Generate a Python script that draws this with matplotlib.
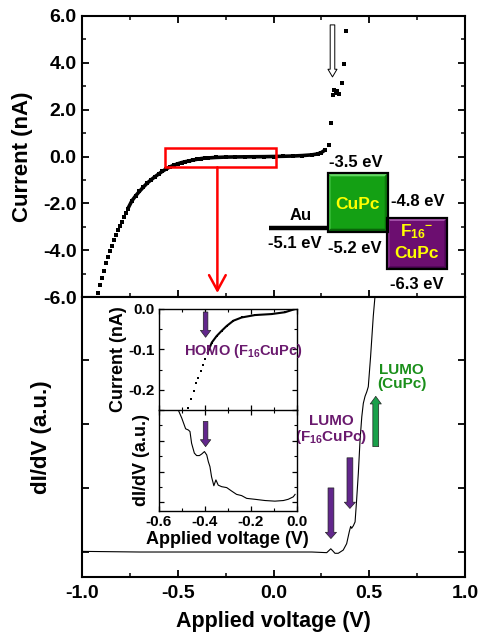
import matplotlib
matplotlib.use('Agg')
import matplotlib.pyplot as plt
import numpy as np
from matplotlib.patches import Rectangle, Polygon
from matplotlib.ticker import MultipleLocator, FormatStrFormatter, NullFormatter

plt.rcParams.update({
    'font.family': ['Liberation Sans', 'DejaVu Sans'],
    'font.weight': 'bold',
    'axes.labelweight': 'bold',
    'mathtext.fontset': 'custom',
    'mathtext.rm': 'Liberation Sans:bold',
    'mathtext.it': 'Liberation Sans:bold',
    'mathtext.bf': 'Liberation Sans:bold',
    'mathtext.default': 'rm',
})

# ---------------- data ----------------
# main I-V curve (nA vs V)
iv_v = [-0.918, -0.908, -0.896, -0.883, -0.873, -0.864, -0.854, -0.843, -0.833, -0.822,
        -0.812, -0.802, -0.791, -0.781, -0.772, -0.762,
        -0.74, -0.72, -0.70, -0.68, -0.66, -0.64, -0.62, -0.60, -0.58, -0.56, -0.54,
        -0.52, -0.50, -0.48, -0.46, -0.44, -0.42, -0.40, -0.38, -0.36, -0.34, -0.30,
        -0.25, -0.20, -0.15, -0.10, -0.05, 0.00, 0.05, 0.10, 0.15, 0.20, 0.23, 0.25, 0.27,
        0.291, 0.300, 0.312, 0.318, 0.325, 0.333, 0.340, 0.359, 0.370, 0.379]
iv_i = [-5.81, -5.49, -5.20, -4.89, -4.56, -4.30, -4.03, -3.81, -3.56, -3.35,
        -3.15, -2.97, -2.78, -2.60, -2.43, -2.25,
        -1.90, -1.68, -1.49, -1.31, -1.14, -1.00, -0.87, -0.75, -0.63, -0.53, -0.44,
        -0.37, -0.31, -0.26, -0.22, -0.19, -0.15, -0.12, -0.09, -0.07, -0.06, -0.04,
        -0.025, -0.018, -0.014, -0.010, -0.007, 0.0, 0.01, 0.02, 0.04, 0.07, 0.11, 0.17, 0.28,
        0.49, 1.44, 2.62, 2.85, 2.70, 2.78, 2.68, 3.15, 3.94, 5.36]

# main dI/dV curve (a.u.)
didv_v = [-1.0, -0.7, -0.4, 0.0, 0.2, 0.278, 0.299, 0.309, 0.321, 0.338, 0.364, 0.382,
          0.396, 0.403, 0.408, 0.417, 0.426, 0.434, 0.443, 0.452, 0.461, 0.469, 0.478,
          0.487, 0.495, 0.507, 0.521, 0.530, 0.536]
didv_y = [0.01, 0.0, 0.0, 0.0, 0.0, -0.01, 0.05, 0.02, -0.02, -0.02, 0.03, 0.13,
          0.32, 0.40, 0.37, 0.41, 0.47, 0.81, 1.23, 1.75, 2.11, 2.32, 2.43,
          2.50, 2.58, 3.05, 3.68, 3.99, 4.3]

# inset I-V
in_v = [-0.472, -0.461, -0.448, -0.437, -0.429, -0.418, -0.410, -0.400, -0.388, -0.370,
        -0.349, -0.327, -0.305, -0.276, -0.240, -0.182, -0.109, -0.051, -0.007]
in_i = [-0.246, -0.223, -0.202, -0.183, -0.171, -0.154, -0.1375, -0.123, -0.108, -0.083,
        -0.067, -0.054, -0.042, -0.029, -0.021, -0.015, -0.0125, -0.008, 0.0]

# inset dI/dV
ind_v = [-0.516, -0.501, -0.484, -0.472, -0.465, -0.458, -0.446, -0.436, -0.424, -0.414,
         -0.402, -0.392, -0.385, -0.378, -0.371, -0.361, -0.352, -0.342, -0.327, -0.305,
         -0.284, -0.262, -0.240, -0.218, -0.182, -0.138, -0.095, -0.058, -0.037, -0.015,
         -0.007]
ind_y = [3.0, 2.74, 2.39, 2.35, 2.30, 1.92, 1.60, 1.52, 1.52, 1.57,
         1.65, 1.54, 1.32, 1.16, 0.83, 0.54, 0.73, 0.56, 0.51, 0.48,
         0.37, 0.26, 0.22, 0.13, 0.10, 0.06, 0.04, 0.06, 0.10, 0.18,
         0.26]

# energy levels (eV)
au_level = -5.1
cupc_levels = (-3.5, -5.2)      # LUMO, HOMO
f16_levels = (-4.8, -6.3)       # LUMO, HOMO

# ---------------- figure ----------------
W, H = 480, 634
fig = plt.figure(figsize=(W / 100, H / 100), dpi=100)

def fr(x0, y0, x1, y1):
    return [x0 / W, 1 - y1 / H, (x1 - x0) / W, (y1 - y0) / H]

ax_iv = fig.add_axes(fr(82, 16, 465, 297))
ax_d = fig.add_axes(fr(82, 297, 465, 577))

for ax in (ax_iv, ax_d):
    for s in ax.spines.values():
        s.set_linewidth(1.5)
    ax.set_xlim(-1.0, 1.0)

# top panel
dense = [(v >= -0.77) and (v <= 0.28) for v in iv_v]
dv = [v for v, m in zip(iv_v, dense) if m]
di = [i for i, m in zip(iv_i, dense) if m]
ax_iv.plot(dv, di, '-', color='black', lw=2.6, solid_capstyle='butt')
ax_iv.plot(iv_v, iv_i, 's', color='black', ms=2.4, mew=0)
ax_iv.set_ylim(-6, 6)
ax_iv.yaxis.set_major_locator(MultipleLocator(2.0))
ax_iv.yaxis.set_minor_locator(MultipleLocator(1.0))
ax_iv.yaxis.set_major_formatter(FormatStrFormatter('%.1f'))
ax_iv.xaxis.set_major_locator(MultipleLocator(0.5))
ax_iv.xaxis.set_minor_locator(MultipleLocator(0.25))
ax_iv.tick_params(which='both', direction='in', top=True, bottom=True, left=True, right=True,
                  labelbottom=False, labelsize=14, pad=4)
ax_iv.tick_params(which='major', length=5, width=1.3)
ax_iv.tick_params(which='minor', length=3, width=1.1)
ax_iv.set_ylabel('Current (nA)', fontsize=16)
ax_iv.yaxis.set_label_coords(-0.128, 0.5)

# red rectangle & arrow
ax_iv.add_patch(Rectangle((-0.567, -0.46), 0.58, 0.84, fill=False, ec='red', lw=1.8, zorder=5))
ax_iv.annotate('', xy=(-0.293, -5.83), xytext=(-0.293, -0.46),
               arrowprops=dict(arrowstyle='->,head_length=0.55,head_width=0.3', color='red',
                               lw=1.8, mutation_scale=20, shrinkA=0, shrinkB=0))
# white arrow
ax_iv.annotate('', xy=(0.308, 3.40), xytext=(0.308, 5.62),
               arrowprops=dict(arrowstyle='simple,head_length=0.55,head_width=0.65,tail_width=0.33',
                               fc='white', ec='black', lw=0.7, mutation_scale=10,
                               shrinkA=0, shrinkB=0))

# bottom panel
ax_d.plot(didv_v, didv_y, '-', color='black', lw=0.8)
ax_d.set_ylim(-0.39, 3.98)
ax_d.yaxis.set_major_locator(MultipleLocator(1.0))
ax_d.yaxis.set_major_formatter(NullFormatter())
ax_d.xaxis.set_major_locator(MultipleLocator(0.5))
ax_d.xaxis.set_minor_locator(MultipleLocator(0.25))
ax_d.xaxis.set_major_formatter(FormatStrFormatter('%.1f'))
ax_d.tick_params(which='both', direction='in', top=False, bottom=True, left=True, right=True,
                 labelsize=14, pad=6)
ax_d.tick_params(which='major', length=5, width=1.3)
ax_d.tick_params(which='minor', length=3, width=1.1)
ax_d.set_ylabel('dI/dV (a.u.)', fontsize=16)
ax_d.yaxis.set_label_coords(-0.078, 0.5)
ax_d.set_xlabel('Applied voltage (V)', fontsize=15.5, labelpad=6)

purple_arrow = '#62278c'
purple_text = '#6a1a6e'
green_text = '#1a8f1a'
green_arrow = '#1aa04a'
simple = 'simple,head_length=0.45,head_width=0.8,tail_width=0.42'
for xa, y0, y1 in [(0.399, 1.47, 0.68), (0.300, 1.0, 0.21)]:
    ax_d.annotate('', xy=(xa, y1), xytext=(xa, y0),
                  arrowprops=dict(arrowstyle=simple, fc=purple_arrow, ec='#222222', lw=0.5,
                                  mutation_scale=10, shrinkA=0, shrinkB=0))
ax_d.annotate('', xy=(0.534, 2.43), xytext=(0.534, 1.645),
              arrowprops=dict(arrowstyle='simple,head_length=0.55,head_width=0.8,tail_width=0.42',
                              fc=green_arrow, ec='#222222', lw=0.5, mutation_scale=10,
                              shrinkA=0, shrinkB=0))
ax_d.text(0.300, 1.91, 'LUMO\n(F$_{16}$CuPc)', color=purple_text, fontsize=11,
          ha='center', va='center', linespacing=1.0)
ax_d.text(0.67, 2.73, 'LUMO\n(CuPc)', color=green_text, fontsize=11,
          ha='center', va='center', linespacing=1.0)

# ---------------- insets ----------------
ax_in1 = fig.add_axes(fr(159, 309, 296.7, 410))
ax_in2 = fig.add_axes(fr(159, 410, 296.7, 511))
for ax in (ax_in1, ax_in2):
    ax.set_facecolor('white')
    for s in ax.spines.values():
        s.set_linewidth(1.0)
    ax.set_xlim(-0.6, 0.0)
    ax.xaxis.set_major_locator(MultipleLocator(0.2))
    ax.xaxis.set_minor_locator(MultipleLocator(0.1))
    ax.tick_params(which='both', direction='in', left=True, right=True, top=True, bottom=True,
                   labelsize=11, pad=3)
    ax.tick_params(which='major', length=3.5, width=0.9)
    ax.tick_params(which='minor', length=2.2, width=0.8)

in_dense = [v >= -0.39 for v in in_v]
ax_in1.plot([v for v, m in zip(in_v, in_dense) if m], [i for i, m in zip(in_i, in_dense) if m],
            '-', color='black', lw=1.5)
ax_in1.plot(in_v, in_i, 's', color='black', ms=1.8, mew=0)
ax_in1.set_ylim(-0.25, 0.0)
ax_in1.yaxis.set_major_locator(MultipleLocator(0.1))
ax_in1.yaxis.set_minor_locator(MultipleLocator(0.05))
ax_in1.yaxis.set_major_formatter(FormatStrFormatter('%.1f'))
ax_in1.tick_params(labelbottom=False)
ax_in1.set_ylabel('Current (nA)', fontsize=13)
ax_in1.yaxis.set_label_coords(-0.232, 0.5)
ax_in1.spines['bottom'].set_visible(False)

ax_in2.plot(ind_v, ind_y, '-', color='black', lw=0.8)
ax_in2.set_ylim(-0.28, 3.0)
ax_in2.yaxis.set_major_locator(MultipleLocator(1.0))
ax_in2.yaxis.set_minor_locator(MultipleLocator(0.5))
ax_in2.yaxis.set_major_formatter(NullFormatter())
ax_in2.xaxis.set_major_formatter(FormatStrFormatter('%.1f'))
ax_in2.set_ylabel('dI/dV (a.u.)', fontsize=13)
ax_in2.yaxis.set_label_coords(-0.065, 0.5)
ax_in2.set_xlabel('Applied voltage (V)', fontsize=13, labelpad=1)

hsimple = 'simple,head_length=0.5,head_width=0.75,tail_width=0.33'
ax_in1.annotate('', xy=(-0.397, -0.07), xytext=(-0.397, -0.0075),
                arrowprops=dict(arrowstyle=hsimple, fc=purple_arrow, ec='#222222', lw=0.5,
                                mutation_scale=10, shrinkA=0, shrinkB=0))
ax_in2.annotate('', xy=(-0.397, 1.81), xytext=(-0.397, 2.63),
                arrowprops=dict(arrowstyle=hsimple, fc=purple_arrow, ec='#222222', lw=0.5,
                                mutation_scale=10, shrinkA=0, shrinkB=0))
ax_in1.text(-0.234, -0.104, 'HOMO (F$_{16}$CuPc)', color=purple_text, fontsize=10.5,
            ha='center', va='center', zorder=10, clip_on=False)

# ---------------- energy diagram ----------------
PX_PER_EV = 34.35
def E(py):
    return -3.5 - (py - 173.3) / PX_PER_EV

ax_e = fig.add_axes(fr(255, 150, 470, 295))
ax_e.set_xlim(255, 470)
ax_e.set_ylim(E(295), E(150))
ax_e.axis('off')
ax_e.patch.set_alpha(0)

def bevel_box(ax, x0, x1, y0, y1, base, light, light2, dark, dark2):
    bx = 3.0
    by = 3.0 / PX_PER_EV
    ax.add_patch(Rectangle((x0, y0), x1 - x0, y1 - y0, fc=base, ec='none', zorder=2))
    ax.add_patch(Polygon([(x0, y1), (x1, y1), (x1 - bx, y1 - by), (x0 + bx, y1 - by)],
                         fc=light, ec='none', zorder=3))
    ax.add_patch(Polygon([(x0, y0), (x0, y1), (x0 + bx, y1 - by), (x0 + bx, y0 + by)],
                         fc=light2, ec='none', zorder=3))
    ax.add_patch(Polygon([(x0, y0), (x1, y0), (x1 - bx, y0 + by), (x0 + bx, y0 + by)],
                         fc=dark, ec='none', zorder=3))
    ax.add_patch(Polygon([(x1, y0), (x1, y1), (x1 - bx, y1 - by), (x1 - bx, y0 + by)],
                         fc=dark2, ec='none', zorder=3))
    ax.add_patch(Rectangle((x0, y0), x1 - x0, y1 - y0, fill=False, ec='black', lw=1.6, zorder=4))

ax_e.plot([269.3, 328.3], [au_level, au_level], color='black', lw=3.2, solid_capstyle='butt', zorder=1)
bevel_box(ax_e, 327.7, 387.7, cupc_levels[1], cupc_levels[0],
          '#14a014', '#63d863', '#3cbf3c', '#0a650a', '#0d7a0d')
bevel_box(ax_e, 386.7, 447.3, f16_levels[1], f16_levels[0],
          '#6c0e70', '#a552aa', '#8a2e8f', '#42044a', '#52085a')

lab = dict(fontsize=12, ha='center', va='center', color='black')
ax_e.text(300.7, E(215), 'Au', **lab)
ax_e.text(295, E(243.3), f'{au_level:.1f} eV', **lab)
ax_e.text(356, E(162.7), f'{cupc_levels[0]:.1f} eV', **lab)
ax_e.text(355, E(248.3), f'{cupc_levels[1]:.1f} eV', **lab)
ax_e.text(418.3, E(201.7), f'{f16_levels[0]:.1f} eV', **lab)
ax_e.text(416.7, E(284), f'{f16_levels[1]:.1f} eV', **lab)
ax_e.text(357.7, E(204), 'CuPc', fontsize=12.5, ha='center', va='center', color='#ffff00', zorder=6)
ax_e.text(416.7, E(231.5), 'F$_{16}$$^{-}$', fontsize=12.5, ha='center', va='center',
          color='#ffff00', zorder=6)
ax_e.text(416.5, E(253.5), 'CuPc', fontsize=12.5, ha='center', va='center', color='#ffff00', zorder=6)

fig.savefig('out.png', dpi=100)
